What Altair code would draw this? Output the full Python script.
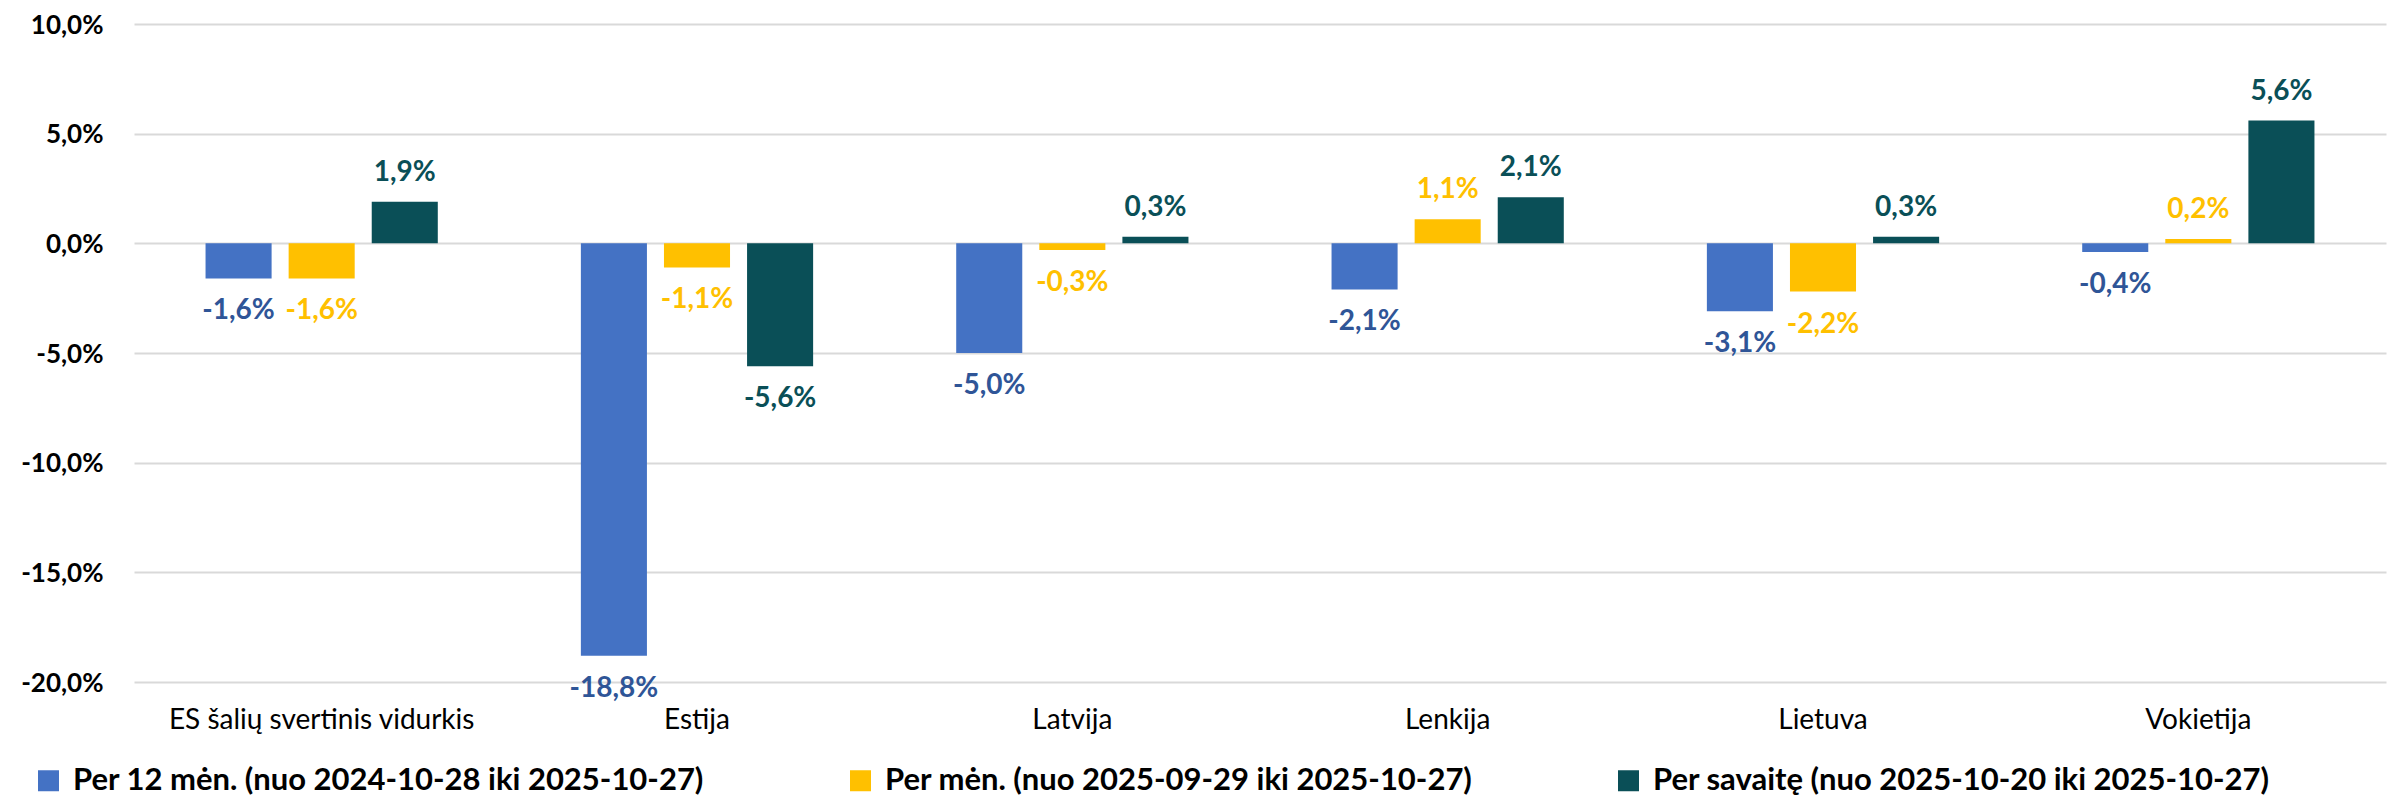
import altair as alt
import pandas as pd

countries = ["ES šalių svertinis vidurkis", "Estija", "Latvija", "Lenkija", "Lietuva", "Vokietija"]
series = [
    "Per 12 mėn. (nuo 2024-10-28 iki 2025-10-27)",
    "Per mėn. (nuo 2025-09-29 iki 2025-10-27)",
    "Per savaitę (nuo 2025-10-20 iki 2025-10-27)",
]
v_12men = [-1.6, -18.8, -5.0, -2.1, -3.1, -0.4]
v_men = [-1.6, -1.1, -0.3, 1.1, -2.2, 0.2]
v_sav = [1.9, -5.6, 0.3, 2.1, 0.3, 5.6]

bar_colors = ["#4472C4", "#FFC000", "#0A4F57"]
text_colors = ["#2F5597", "#FFC000", "#0A4F57"]

rows = []
for s, vals in zip(series, [v_12men, v_men, v_sav]):
    for c, v in zip(countries, vals):
        rows.append({"country": c, "series": s, "value": v})
df = pd.DataFrame(rows)

fmt = "replace(replace(format(datum.value, '.1f'), '.', ','), '−', '-') + '%'"

x_enc = alt.X("country:N", sort=countries, title=None,
              scale=alt.Scale(paddingInner=0, paddingOuter=0),
              axis=alt.Axis(labelAngle=0, domain=False, ticks=False, grid=False,
                            labelFont="Lato", labelFontSize=28, labelColor="#000000",
                            labelPadding=24, labelLimit=600))
xoff_enc = alt.XOffset("series:N", sort=series,
                       scale=alt.Scale(paddingInner=0.205, paddingOuter=0.861))
y_enc = alt.Y("value:Q", title=None,
              scale=alt.Scale(domain=[-20, 10], nice=False, zero=True),
              axis=alt.Axis(values=[-20, -15, -10, -5, 0, 5, 10], labelExpr=fmt,
                            domain=False, ticks=False, gridColor="#D9D9D9", gridWidth=2,
                            labelFont="Lato", labelFontSize=26, labelFontWeight="bold",
                            labelColor="#000000", labelPadding=31, labelOffset=1))

base = alt.Chart(df)

bars = base.mark_bar().encode(
    x=x_enc,
    xOffset=xoff_enc,
    y=y_enc,
    color=alt.Color("series:N", sort=series,
                    scale=alt.Scale(domain=series, range=bar_colors),
                    legend=alt.Legend(title=None, orient="none", direction="horizontal",
                                      columns=3, legendX=-101, legendY=741,
                                      symbolType="square", symbolSize=441,
                                      symbolStrokeWidth=0, labelOffset=9,
                                      labelFont="Lato", labelFontSize=31,
                                      labelFontWeight="bold", labelColor="#000000",
                                      labelLimit=1200, columnPadding=140, padding=0)),
)

text_color = alt.Color("series:N", sort=series,
                       scale=alt.Scale(domain=series, range=text_colors), legend=None)

pos = base.transform_filter("datum.value >= 0").transform_calculate(
    label=fmt
).mark_text(baseline="alphabetic", dy=-21, font="Lato", fontSize=28, fontWeight="bold").encode(
    x=alt.X("country:N", sort=countries),
    xOffset=alt.XOffset("series:N", sort=series),
    y=alt.Y("value:Q"),
    text="label:N",
    color=text_color,
)

neg = base.transform_filter("datum.value < 0").transform_calculate(
    label=fmt
).mark_text(baseline="top", dy=19, font="Lato", fontSize=28, fontWeight="bold").encode(
    x=alt.X("country:N", sort=countries),
    xOffset=alt.XOffset("series:N", sort=series),
    y=alt.Y("value:Q"),
    text="label:N",
    color=text_color,
)

chart = alt.layer(bars, pos, neg).resolve_scale(color="independent").properties(
    width=2252, height=658,
    padding={"left": 126, "top": 16, "right": 8, "bottom": 118},
    autosize=alt.AutoSizeParams(type="none"),
).configure_view(stroke=None)

chart.save("out.html", embed_options={"renderer": "svg", "actions": False})
